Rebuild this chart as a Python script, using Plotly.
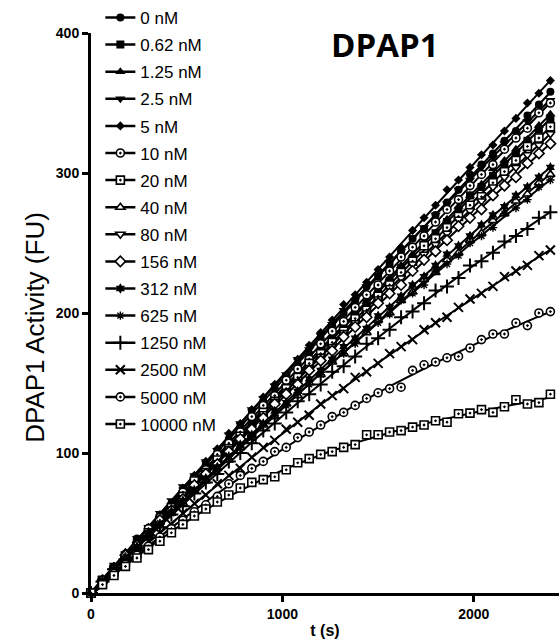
import numpy as np
import plotly.graph_objects as go

t_s = list(range(0, 2401, 60))

labels = ["0 nM", "0.62 nM", "1.25 nM", "2.5 nM", "5 nM", "10 nM", "20 nM", "40 nM",
          "80 nM", "156 nM", "312 nM", "625 nM", "1250 nM", "2500 nM", "5000 nM", "10000 nM"]

v_0 = [0, 9, 18, 28, 39, 46, 55, 64, 73, 80, 92, 101, 110, 119, 130, 137, 146, 155, 164, 171, 182,
       191, 200, 209, 219, 226, 235, 244, 253, 260, 270, 279, 288, 299, 306, 314, 323, 330, 341, 349, 358]
v_062 = [0, 9, 17, 27, 35, 43, 52, 61, 68, 78, 87, 96, 104, 115, 121, 130, 139, 147, 154, 164, 173,
         181, 190, 200, 207, 215, 223, 232, 238, 249, 257, 265, 273, 284, 290, 298, 306, 313, 323, 331, 339]
v_125 = [0, 9, 19, 27, 35, 44, 51, 62, 71, 79, 90, 97, 105, 114, 123, 133, 140, 149, 157, 166, 172,
         183, 191, 200, 208, 219, 225, 234, 242, 251, 257, 267, 276, 284, 292, 303, 309, 317, 324, 334, 342]
v_25 = [0, 10, 20, 28, 39, 47, 57, 66, 76, 84, 94, 102, 113, 121, 131, 139, 148, 156, 167, 174, 184,
        192, 202, 209, 219, 227, 236, 244, 254, 261, 270, 278, 288, 295, 304, 311, 321, 328, 337, 344, 352]
v_5 = [0, 10, 19, 29, 38, 47, 56, 64, 75, 84, 94, 103, 114, 121, 131, 140, 149, 156, 167, 177, 186,
       195, 206, 213, 222, 231, 240, 247, 259, 268, 277, 288, 295, 304, 313, 320, 330, 339, 350, 357, 366]
v_10 = [0, 8, 18, 27, 35, 46, 54, 62, 72, 81, 88, 99, 107, 115, 126, 134, 141, 152, 160, 167, 178,
        187, 194, 204, 213, 220, 230, 240, 247, 255, 265, 274, 281, 291, 299, 306, 317, 325, 332, 343, 350]
v_20 = [0, 9, 17, 26, 33, 43, 52, 61, 69, 80, 86, 95, 103, 112, 110, 129, 137, 146, 154, 164, 171,
        179, 187, 196, 202, 212, 220, 229, 237, 248, 253, 261, 269, 277, 283, 293, 301, 309, 319, 325, 333]
v_40 = [0, 8, 16, 25, 32, 41, 48, 57, 64, 73, 80, 89, 95, 104, 111, 120, 126, 135, 141, 150, 156,
        165, 171, 180, 186, 195, 200, 209, 215, 224, 229, 238, 243, 252, 257, 266, 271, 280, 285, 293, 299]
v_80 = [0, 9, 17, 25, 35, 43, 53, 60, 68, 78, 86, 93, 103, 111, 118, 128, 137, 144, 151, 161, 169,
        176, 186, 193, 200, 210, 218, 225, 235, 242, 249, 257, 267, 273, 280, 290, 297, 304, 313, 320, 328]
v_156 = [0, 9, 17, 27, 34, 42, 52, 59, 67, 77, 85, 92, 101, 110, 117, 125, 135, 142, 149, 159, 166,
         173, 183, 190, 197, 207, 214, 220, 230, 238, 244, 252, 262, 268, 274, 284, 291, 297, 307, 314, 321]
v_312 = [0, 8, 17, 25, 33, 42, 49, 58, 66, 73, 82, 90, 97, 106, 113, 121, 130, 136, 144, 153, 159,
         167, 176, 182, 189, 198, 204, 212, 220, 226, 234, 242, 248, 255, 263, 270, 276, 284, 290, 297, 304]
v_625 = [0, 9, 16, 26, 33, 40, 50, 57, 64, 74, 81, 88, 98, 104, 111, 121, 127, 134, 143, 149, 156,
         166, 171, 178, 188, 193, 199, 209, 214, 220, 230, 235, 241, 250, 255, 261, 271, 275, 281, 290, 295]
v_1250 = [0, 8, 17, 24, 31, 41, 47, 56, 62, 71, 79, 85, 94, 100, 107, 116, 121, 129, 137, 142, 149,
          158, 162, 169, 178, 182, 188, 197, 201, 207, 216, 219, 225, 234, 237, 243, 251, 255, 260, 268, 272]
v_2500 = [0, 7, 15, 22, 28, 37, 43, 49, 57, 64, 70, 78, 84, 89, 97, 104, 109, 117, 122, 127, 135,
          141, 146, 154, 158, 164, 171, 176, 181, 188, 193, 197, 204, 210, 214, 219, 226, 230, 234, 241, 245]
v_5000 = [0, 7, 14, 20.5, 27, 33.5, 40, 46, 52, 58, 63, 69, 78, 84, 89, 94, 101, 104, 111, 115, 120,
          126, 129, 134, 139, 143, 146, 147, 159, 163, 165, 168, 169, 175, 181, 185, 185, 193, 191, 200, 201]
v_10000 = [0, 6, 12.5, 19, 25, 31, 37, 43, 49, 55, 60, 65, 70, 75, 79, 81, 83, 88, 93, 96, 99,
           101, 104, 106, 113, 113, 115, 116, 118.5, 120, 123, 122, 128, 128.5, 131, 129, 133, 138, 135, 136, 142]

series = [v_0, v_062, v_125, v_25, v_5, v_10, v_20, v_40, v_80, v_156, v_312, v_625,
          v_1250, v_2500, v_5000, v_10000]

# marker styles: (symbol, fill, size, line width)
styles = [
    ("circle", "black", 8, 0),
    ("square", "black", 8, 0),
    ("triangle-up", "black", 9, 0),
    ("triangle-down", "black", 9, 0),
    ("diamond", "black", 7, 0),
    ("circle-dot", "white", 8, 1.6),
    ("square-dot", "white", 8, 1.6),
    ("triangle-up", "white", 8, 1.6),
    ("triangle-down", "white", 8, 1.6),
    ("diamond", "white", 8, 1.6),
    ("hexagram", "black", 8, 0),
    ("asterisk-open", "black", 7, 1.4),
    ("cross-thin-open", "black", 10, 2),
    ("x-thin-open", "black", 9, 2),
    ("circle-dot", "white", 8, 1.6),
    ("square-dot", "white", 8, 1.6),
]

FONT = "Arial, Liberation Sans, sans-serif"
fig = go.Figure()

t_arr = np.array(t_s, dtype=float)
t_fine = np.linspace(0, 2400, 200)

for name, vals, (sym, fill, size, lw) in zip(labels, series, styles):
    marker = dict(symbol=sym, color=fill, size=size, line=dict(color="black", width=lw))
    coef = np.polyfit(t_arr, np.array(vals, dtype=float), 3)
    fig.add_trace(go.Scatter(x=t_fine, y=np.polyval(coef, t_fine), mode="lines",
                             line=dict(color="black", width=2), showlegend=False,
                             hoverinfo="skip", cliponaxis=False))
    fig.add_trace(go.Scatter(x=t_s, y=vals, mode="markers", marker=marker,
                             showlegend=False, cliponaxis=False))
    fig.add_trace(go.Scatter(x=[None], y=[None], mode="lines+markers", name=name,
                             legendgroup=name, marker=marker,
                             line=dict(color="black", width=2.5)))

fig.update_layout(
    width=559, height=642,
    margin=dict(l=91, r=0, t=33, b=49, autoexpand=False),
    plot_bgcolor="white", paper_bgcolor="white",
    font=dict(family=FONT, color="black"),
    showlegend=True,
    legend=dict(xref="paper", yref="paper", x=0.02, y=1.059, xanchor="left", yanchor="top",
                bgcolor="rgba(0,0,0,0)", font=dict(size=17, family=FONT, color="black"),
                tracegroupgap=2, itemwidth=30, maxheight=1),
    xaxis=dict(range=[0, 2445], showline=True, linecolor="black", linewidth=3,
               ticks="outside", ticklen=6, tickwidth=2.5, tickcolor="black",
               tickvals=[0, 1000, 2000], showgrid=False, zeroline=False,
               tickfont=dict(size=14, family=FONT, weight="bold"),
               title=dict(text="t (s)", font=dict(size=16, family=FONT, weight="bold"), standoff=5)),
    yaxis=dict(range=[0, 400], showline=True, linecolor="black", linewidth=3,
               ticks="outside", ticklen=6, tickwidth=2.5, tickcolor="black",
               tickvals=[0, 100, 200, 300, 400], showgrid=False, zeroline=False,
               tickfont=dict(size=14, family=FONT, weight="bold")),
    annotations=[
        dict(text="DPAP1 Activity (FU)", textangle=-90, xref="paper", yref="paper",
             x=-0.12, y=0.475, xanchor="center", yanchor="middle", showarrow=False,
             font=dict(size=26, family=FONT)),
        dict(text="<b>DPAP1</b>", xref="paper", yref="paper", x=0.628, y=0.979,
             xanchor="center", yanchor="middle",
             showarrow=False, font=dict(size=33, family="Open Sans, sans-serif")),
    ],
)

fig.write_html("out.html", config={"displayModeBar": False},
               post_script="document.body.style.margin='0';")
